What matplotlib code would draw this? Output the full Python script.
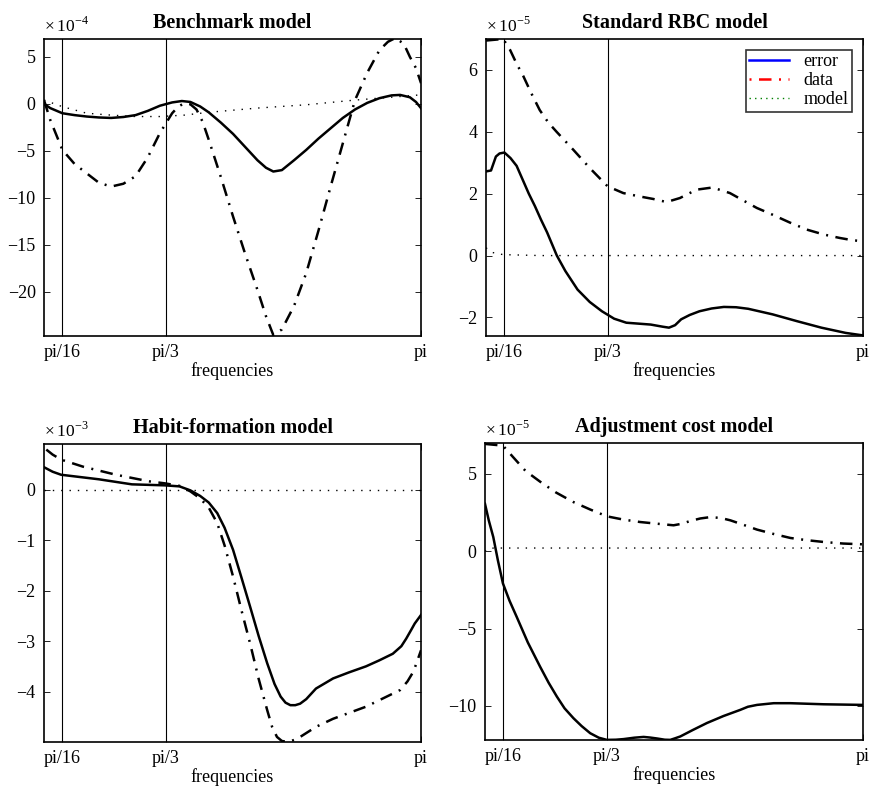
import numpy as np
import matplotlib
matplotlib.use("Agg")
import matplotlib.pyplot as plt
from matplotlib.lines import Line2D

plt.rcParams['font.family'] = ['Liberation Serif', 'DejaVu Serif']
plt.rcParams['mathtext.fontset'] = 'custom'
plt.rcParams['mathtext.rm'] = 'Liberation Serif'

# --- Benchmark model (x 1e-4) ---
bm_f_err = [0.049, 0.1, 0.2, 0.3, 0.4, 0.5, 0.6, 0.7, 0.8, 0.9, 1.0, 1.1, 1.18, 1.25, 1.33, 1.4, 1.5, 1.6, 1.7, 1.8, 1.87, 1.93,
            2.0, 2.1, 2.2, 2.3, 2.4, 2.5, 2.6, 2.7, 2.8, 2.9, 2.97, 3.05, 3.1, 3.1416]
bm_err = [0.0, -0.45, -1.0, -1.2, -1.35, -1.45, -1.5, -1.4, -1.2, -0.75, -0.2, 0.15, 0.3, 0.2, -0.28, -0.9, -2.0, -3.2, -4.6, -6.0,
          -6.8, -7.2, -7.05, -6.0, -4.9, -3.7, -2.6, -1.5, -0.6, 0.1, 0.6, 0.9, 0.95, 0.7, 0.2, -0.46]
bm_f_dat = [0.049, 0.1, 0.2, 0.3, 0.4, 0.5, 0.6, 0.7, 0.8, 0.9, 1.0, 1.1, 1.15, 1.2, 1.25, 1.3, 1.35, 1.4, 1.5, 1.6, 1.7, 1.8,
            1.87, 1.93, 2.0, 2.1, 2.2, 2.3, 2.4, 2.5, 2.6, 2.7, 2.8, 2.87, 2.93, 3.0, 3.05, 3.1, 3.1416]
bm_dat = [0.4, -1.7, -4.9, -6.4, -7.4, -8.4, -8.8, -8.5, -7.7, -5.7, -3.1, -1.0, -0.3, 0.07, -0.05, -0.6, -1.9, -3.8, -7.8, -12.0,
          -16.0, -19.8, -22.6, -24.6, -24.0, -21.5, -18.0, -13.5, -8.8, -4.2, 0.4, 3.3, 5.7, 6.6, 7.0, 6.4, 5.0, 3.8, 2.2]
bm_f_mod = [0.049, 0.2, 0.4, 0.6, 0.8, 1.0, 1.2, 1.4, 1.8, 2.2, 2.6, 3.1416]
bm_mod = [0.4, -0.3, -1.0, -1.2, -1.35, -1.35, -1.2, -0.9, -0.45, -0.1, 0.4, 0.96]

# --- Standard RBC model (x 1e-5) ---
rbc_f_err = [0.049, 0.09, 0.13, 0.16, 0.2, 0.25, 0.3, 0.35, 0.4, 0.45, 0.5, 0.55, 0.63, 0.7, 0.8, 0.9, 1.0, 1.1, 1.2, 1.3, 1.4,
             1.5, 1.55, 1.6, 1.65, 1.72, 1.8, 1.9, 2.0, 2.1, 2.2, 2.4, 2.6, 2.8, 3.0, 3.1416]
rbc_err = [2.72, 2.75, 3.2, 3.3, 3.33, 3.15, 2.9, 2.45, 2.0, 1.6, 1.16, 0.75, 0.0, -0.5, -1.1, -1.5, -1.8, -2.04, -2.17, -2.2,
           -2.23, -2.3, -2.33, -2.25, -2.06, -1.92, -1.8, -1.71, -1.66, -1.67, -1.72, -1.9, -2.12, -2.33, -2.5, -2.58]
rbc_f_dat = [0.049, 0.19, 0.246, 0.3, 0.355, 0.42, 0.49, 0.56, 0.628, 0.765, 0.9, 1.046, 1.175, 1.31, 1.42, 1.53, 1.64, 1.776,
             1.907, 2.05, 2.16, 2.27, 2.4, 2.54, 2.68, 2.82, 2.95, 3.05, 3.1416]
rbc_dat = [6.95, 7.0, 6.65, 6.2, 5.8, 5.25, 4.7, 4.3, 4.0, 3.42, 2.83, 2.24, 2.02, 1.91, 1.83, 1.73, 1.86, 2.13, 2.2, 2.02, 1.78,
           1.54, 1.32, 1.07, 0.84, 0.68, 0.57, 0.5, 0.46]
rbc_f_mod = [0.049, 0.1, 0.19, 0.5, 1.0, 2.0, 3.1416]
rbc_mod = [0.25, 0.1, 0.03, 0.0, 0.0, 0.0, 0.0]

# --- Habit-formation model (x 1e-3) ---
hab_f_err = [0.049, 0.12, 0.19, 0.5, 0.77, 1.04, 1.16, 1.25, 1.33, 1.4, 1.47, 1.53, 1.6, 1.67, 1.74, 1.81, 1.88, 1.94, 1.99, 2.03,
             2.07, 2.11, 2.15, 2.2, 2.28, 2.42, 2.55, 2.69, 2.8, 2.91, 2.98, 3.02, 3.06, 3.09, 3.1416]
hab_err = [0.45, 0.36, 0.30, 0.21, 0.11, 0.09, 0.07, -0.01, -0.12, -0.25, -0.46, -0.75, -1.19, -1.75, -2.32, -2.9, -3.44, -3.85,
           -4.1, -4.22, -4.27, -4.27, -4.24, -4.15, -3.94, -3.74, -3.62, -3.5, -3.38, -3.25, -3.1, -2.95, -2.78, -2.65, -2.48]
hab_f_dat = [0.068, 0.12, 0.19, 0.37, 0.64, 0.91, 1.04, 1.16, 1.25, 1.33, 1.4, 1.47, 1.53, 1.6, 1.67, 1.74, 1.81, 1.88, 1.92, 1.96,
             2.0, 2.05, 2.1, 2.15, 2.28, 2.42, 2.69, 2.97, 3.03, 3.08, 3.1416]
hab_dat = [0.8, 0.7, 0.6, 0.46, 0.3, 0.17, 0.13, 0.08, -0.03, -0.17, -0.35, -0.66, -1.1, -1.72, -2.4, -3.05, -3.75, -4.37, -4.7,
           -4.9, -4.98, -5.0, -4.96, -4.9, -4.7, -4.54, -4.3, -3.97, -3.8, -3.6, -3.18]
hab_f_mod = [0.049, 1.0, 2.0, 3.1416]
hab_mod = [0.0, 0.0, 0.0, 0.0]

# --- Adjustment cost model (x 1e-5) ---
adj_f_err = [0.049, 0.08, 0.117, 0.155, 0.196, 0.25, 0.308, 0.4, 0.5, 0.57, 0.637, 0.7, 0.773, 0.84, 0.91, 0.98, 1.046, 1.12,
             1.183, 1.27, 1.347, 1.4, 1.456, 1.52, 1.565, 1.6, 1.647, 1.75, 1.865, 2.0, 2.138, 2.2, 2.275, 2.411, 2.548, 2.821,
             3.1416]
adj_err = [3.07, 2.0, 0.92, -0.6, -2.08, -3.2, -4.23, -5.9, -7.46, -8.5, -9.39, -10.15, -10.79, -11.3, -11.76, -12.05, -12.19,
           -12.18, -12.14, -12.05, -12.0, -12.04, -12.1, -12.18, -12.19, -12.1, -11.97, -11.55, -11.1, -10.65, -10.25, -10.05,
           -9.93, -9.82, -9.82, -9.89, -9.93]
adj_f_dat = [0.049, 0.196, 0.28, 0.38, 0.5, 0.63, 0.773, 0.91, 1.046, 1.18, 1.32, 1.46, 1.592, 1.66, 1.729, 1.81, 1.893, 1.98,
             2.057, 2.16, 2.275, 2.41, 2.548, 2.68, 2.821, 2.98, 3.1416]
adj_dat = [6.94, 6.83, 6.08, 5.2, 4.5, 3.8, 3.18, 2.7, 2.26, 2.05, 1.89, 1.78, 1.68, 1.78, 1.96, 2.12, 2.21, 2.15, 2.0, 1.72, 1.4,
           1.12, 0.86, 0.72, 0.6, 0.5, 0.45]
adj_f_mod = [0.049, 0.07, 0.12, 1.0, 2.0, 3.1416]
adj_mod = [0.0, 0.15, 0.21, 0.21, 0.21, 0.21]

panels = [
    ("Benchmark model", -4, (-24.7, 6.9), [5, 0, -5, -10, -15, -20],
     bm_f_err, bm_err, bm_f_dat, bm_dat, bm_f_mod, bm_mod),
    ("Standard RBC model", -5, (-2.6, 7.0), [6, 4, 2, 0, -2],
     rbc_f_err, rbc_err, rbc_f_dat, rbc_dat, rbc_f_mod, rbc_mod),
    ("Habit-formation model", -3, (-5.0, 0.91), [0, -1, -2, -3, -4],
     hab_f_err, hab_err, hab_f_dat, hab_dat, hab_f_mod, hab_mod),
    ("Adjustment cost model", -5, (-12.2, 7.0), [5, 0, -5, -10],
     adj_f_err, adj_err, adj_f_dat, adj_dat, adj_f_mod, adj_mod),
]

xticks = [np.pi / 16, np.pi / 3, np.pi]
xticklabels = ['pi/16', 'pi/3', 'pi']

positions = [
    [0.0505, 0.5725, 0.4329, 0.3779],
    [0.558, 0.5725, 0.4328, 0.3779],
    [0.0505, 0.0560, 0.4329, 0.3791],
    [0.5568, 0.0585, 0.434, 0.3779],
]

fig = plt.figure(figsize=(8.71, 7.86), dpi=100)

for pos, (title, expo, ylim, yt, fe, ye, fd, yd, fm, ym) in zip(positions, panels):
    ax = fig.add_axes(pos)
    ax.plot(fe, ye, color='black', lw=1.8, ls='-')
    ax.plot(fd, yd, color='black', lw=1.8, dashes=(5, 3, 0.8, 3))
    ax.plot(fm, ym, color='black', lw=1.0, ls=(0, (1, 5)))
    for xv in xticks[:2]:
        ax.axvline(xv, color='black', lw=0.8)
    ax.set_xlim(0.049, np.pi)
    ax.set_ylim(*ylim)
    ax.set_xticks(xticks)
    ax.set_xticklabels(xticklabels)
    ax.set_yticks(yt)
    ax.set_yticklabels([f"{v:d}".replace('-', '\u2212') for v in yt])
    ax.tick_params(direction='in', right=True, top=True, length=4, labelsize=13, width=0.6, pad=6)
    for s in ax.spines.values():
        s.set_linewidth(1.2)
    ax.set_xlabel('frequencies', fontsize=13, labelpad=0.5)
    ax.set_title(title, fontsize=14.5, fontweight='bold', pad=8)
    ax.text(0.0, 1.012, r'$\times\,10^{%d}$' % expo, transform=ax.transAxes,
            ha='left', va='bottom', fontsize=12.5)
    if title == "Standard RBC model":
        handles = [Line2D([], [], color='blue', lw=1.8),
                   Line2D([], [], color='red', lw=1.8, ls=(8, (5, 3, 0.8, 3))),
                   Line2D([], [], color='green', lw=1.0, ls=(0, (1, 3)))]
        leg = ax.legend(handles, ['error', 'data', 'model'], loc='upper right',
                        fontsize=13, frameon=True, fancybox=False, handlelength=2.2,
                        borderaxespad=0.6, labelspacing=0.1, borderpad=0.2)
        leg.get_frame().set_edgecolor('black')
        leg.get_frame().set_linewidth(1.2)

fig.savefig('out.png', dpi=100)
